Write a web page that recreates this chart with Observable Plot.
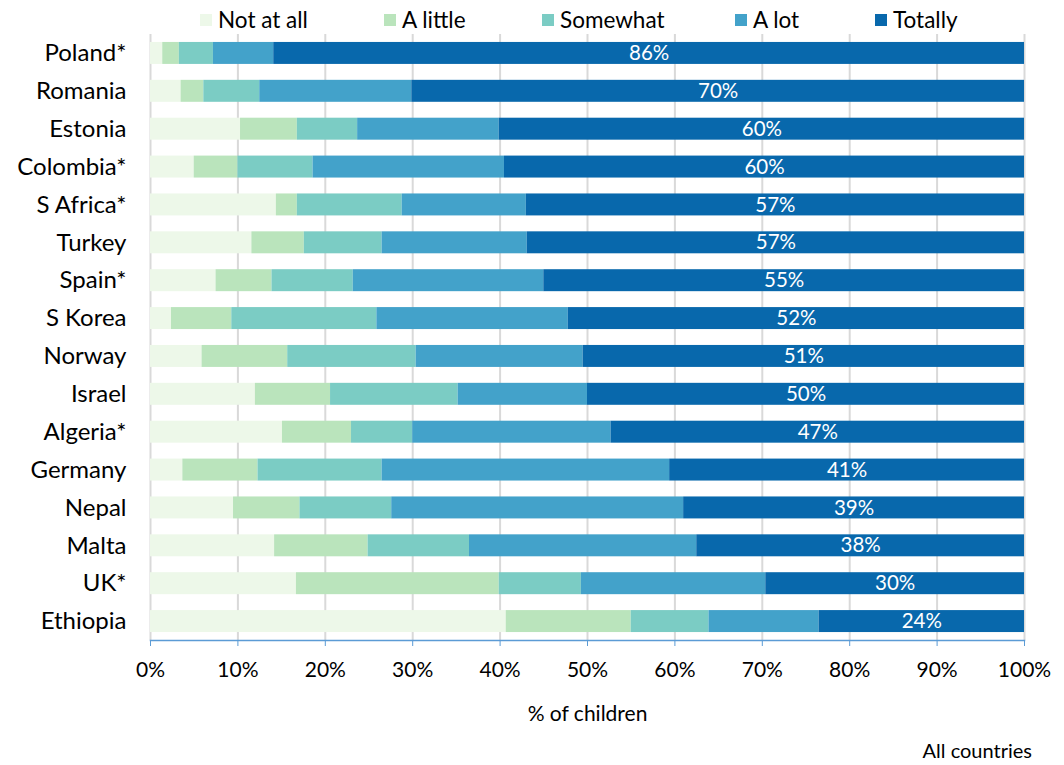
<!DOCTYPE html>
<html>
<head>
<meta charset="utf-8">
<script src="https://cdn.jsdelivr.net/npm/d3@7"></script>
<script src="https://cdn.jsdelivr.net/npm/@observablehq/plot@0.6"></script>
<style>
  body { margin: 0; background: #fff; font-family: Lato, "Open Sans", sans-serif; }
  #legend { position: relative; height: 30px; width: 1064px; font-size: 22.5px; color: #000; }
  .item { position: absolute; top: 7px; display: flex; align-items: center; line-height: 26px; }
  .sw { width: 12px; height: 12px; margin-right: 6px; }
  #caption { width: 1064px; height: 35px; position: relative; font-size: 20px; }
  #caption span { position: absolute; right: 32px; top: 8px; }
</style>
</head>
<body>
<div id="legend"></div>
<div id="chart"></div>
<div id="caption"><span>All countries</span></div>
<script>
const countries = ["Poland*", "Romania", "Estonia", "Colombia*", "S Africa*", "Turkey", "Spain*", "S Korea", "Norway", "Israel", "Algeria*", "Germany", "Nepal", "Malta", "UK*", "Ethiopia"];
const categories = ["Not at all", "A little", "Somewhat", "A lot", "Totally"];
const colors = ["#edf8e9", "#bae4bc", "#7bccc4", "#43a2ca", "#0868ac"];
const notAtAll = [1.4, 3.5, 10.3, 5.0, 14.4, 11.6, 7.5, 2.4, 5.9, 12.0, 15.1, 3.7, 9.5, 14.2, 16.7, 40.7];
const aLittle  = [1.9, 2.6, 6.5, 5.0, 2.4, 6.0, 6.4, 6.9, 9.8, 8.6, 7.9, 8.6, 7.6, 10.7, 23.2, 14.3];
const somewhat = [3.9, 6.4, 6.9, 8.6, 12.0, 8.9, 9.3, 16.6, 14.7, 14.6, 7.0, 14.2, 10.5, 11.6, 9.4, 8.9];
const aLot     = [6.9, 17.4, 16.2, 21.9, 14.2, 16.6, 21.8, 21.9, 19.1, 14.8, 22.7, 32.9, 33.4, 26.0, 21.1, 12.6];
const totally  = [85.9, 70.1, 60.1, 59.5, 57.0, 56.9, 55.0, 52.2, 50.5, 50.0, 47.3, 40.6, 39.0, 37.5, 29.6, 23.5];
const xTicks = [0, 10, 20, 30, 40, 50, 60, 70, 80, 90, 100];

const series = [notAtAll, aLittle, somewhat, aLot, totally];
const data = [];
countries.forEach((c, i) => {
  categories.forEach((cat, j) => {
    data.push({country: c, category: cat, value: series[j][i]});
  });
});

// Legend
const legend = document.getElementById("legend");
const legendLeft = [200, 384, 542, 735, 875];
categories.forEach((cat, j) => {
  const it = document.createElement("div");
  it.className = "item";
  it.style.left = legendLeft[j] + "px";
  it.innerHTML = `<div class="sw" style="background:${colors[j]}"></div><span>${cat}</span>`;
  legend.appendChild(it);
});

const chart = Plot.plot({
  width: 1064,
  height: 700,
  marginLeft: 150,
  marginRight: 40,
  marginTop: 4,
  marginBottom: 90,
  style: {fontFamily: "Lato, 'Open Sans', sans-serif", background: "#fff"},
  x: {domain: [0, 100]},
  y: {domain: countries, paddingInner: 0.42, paddingOuter: 0.21, round: false},
  color: {domain: categories, range: colors},
  marks: [
    Plot.gridX(xTicks, {stroke: "#d9d9d9", strokeWidth: 2, strokeOpacity: 1}),
    Plot.barX(data, Plot.stackX({x: "value", y: "country", fill: "category", order: categories})),
    Plot.text(data, Plot.stackX({
      x: "value", y: "country", z: "category", order: categories,
      text: d => d.category === "Totally" ? Math.round(d.value) + "%" : null,
      fill: "white", fontSize: 20.5
    })),
    Plot.frame({anchor: "bottom", stroke: "#5b9bd5", strokeWidth: 1.5}),
    Plot.axisX(xTicks, {
      tickSize: 6, stroke: "#5b9bd5", tickPadding: 16, fontSize: 21, color: "#000",
      tickFormat: d => d + "%", label: "% of children", labelAnchor: "center",
      labelOffset: 80, labelArrow: "none"
    }),
    Plot.axisY({tickSize: 0, tickPadding: 24, fontSize: 24, label: null, color: "#000"})
  ]
});
document.getElementById("chart").appendChild(chart);
</script>
</body>
</html>
